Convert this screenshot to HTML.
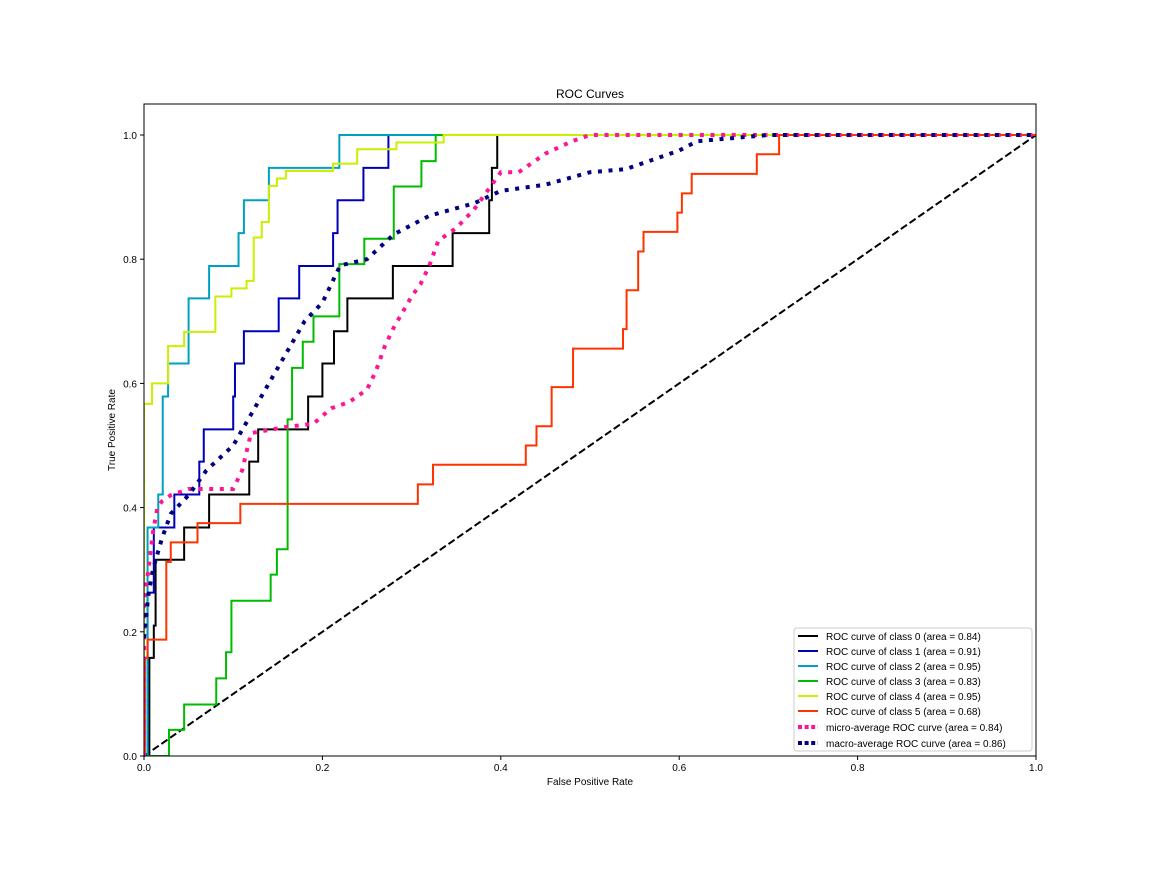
<!DOCTYPE html>
<html><head><meta charset="utf-8"><style>
body{margin:0;background:#fff;font-family:"Liberation Sans","DejaVu Sans",sans-serif;}
svg text{font-family:"Liberation Sans","DejaVu Sans",sans-serif;}
</style></head><body>
<svg id="chart" width="1152" height="864" xmlns="http://www.w3.org/2000/svg">
<rect width="1152" height="864" fill="#fff"/>
<g id="plot"></g>
</svg>
<script>
const xTicks=[0,0.2,0.4,0.6,0.8,1.0];
const yTicks=[0,0.2,0.4,0.6,0.8,1.0];
const c0x=[0,0.006,0.011,0.013,0.045,0.073,0.118,0.128,0.184,0.2,0.213,0.228,0.279,0.346,0.387,0.39,0.396,1];
const c0y=[0,0.158,0.21,0.316,0.368,0.421,0.474,0.526,0.579,0.632,0.684,0.737,0.789,0.842,0.895,0.947,1,1];
const c1x=[0,0.004,0.011,0.034,0.062,0.067,0.1,0.102,0.112,0.151,0.174,0.212,0.217,0.246,0.274,1];
const c1y=[0,0.263,0.368,0.421,0.474,0.526,0.579,0.632,0.684,0.737,0.789,0.842,0.895,0.947,1,1];
const c2x=[0,0.004,0.016,0.021,0.027,0.05,0.073,0.106,0.112,0.14,0.219,1];
const c2y=[0,0.368,0.421,0.579,0.632,0.737,0.789,0.842,0.895,0.947,1,1];
const c3x=[0,0.028,0.045,0.081,0.092,0.098,0.142,0.149,0.161,0.166,0.178,0.19,0.219,0.247,0.28,0.311,0.327,1];
const c3y=[0,0.042,0.083,0.125,0.167,0.25,0.292,0.333,0.542,0.625,0.667,0.708,0.792,0.833,0.917,0.958,1,1];
const c4x=[0,0,0.009,0.027,0.045,0.08,0.098,0.115,0.123,0.132,0.14,0.149,0.159,0.212,0.239,0.283,0.336,1];
const c4y=[0,0.567,0.6,0.66,0.683,0.74,0.753,0.765,0.835,0.86,0.918,0.93,0.942,0.954,0.977,0.988,1,1];
const c5x=[0,0.001,0.004,0.025,0.03,0.06,0.108,0.307,0.324,0.428,0.44,0.457,0.481,0.537,0.541,0.554,0.56,0.598,0.603,0.614,0.687,0.712,1];
const c5y=[0,0.158,0.1875,0.3125,0.344,0.375,0.406,0.4375,0.469,0.5,0.531,0.594,0.656,0.6875,0.75,0.8125,0.844,0.875,0.906,0.9375,0.969,1,1];
const microX=[0,0,0.005,0.01,0.015,0.02,0.03,0.05,0.1,0.11,0.115,0.12,0.14,0.16,0.19,0.21,0.23,0.25,0.26,0.27,0.28,0.3,0.31,0.32,0.33,0.35,0.37,0.39,0.4,0.42,0.43,0.45,0.48,0.5,1];
const microY=[0,0.25,0.3,0.36,0.4,0.41,0.42,0.43,0.43,0.46,0.49,0.52,0.525,0.53,0.535,0.56,0.57,0.59,0.62,0.66,0.69,0.74,0.76,0.79,0.83,0.85,0.88,0.92,0.94,0.94,0.95,0.97,0.99,1,1];
const macroX=[0,0.005,0.01,0.02,0.03,0.05,0.07,0.1,0.12,0.14,0.16,0.18,0.2,0.22,0.25,0.28,0.32,0.37,0.4,0.45,0.5,0.54,0.57,0.6,0.62,0.7,1];
const macroY=[0.19,0.26,0.3,0.35,0.39,0.42,0.46,0.5,0.55,0.6,0.65,0.7,0.73,0.79,0.8,0.84,0.87,0.89,0.91,0.92,0.94,0.945,0.96,0.975,0.99,1,1];
const labels=["ROC curve of class 0 (area = 0.84)","ROC curve of class 1 (area = 0.91)","ROC curve of class 2 (area = 0.95)","ROC curve of class 3 (area = 0.83)","ROC curve of class 4 (area = 0.95)","ROC curve of class 5 (area = 0.68)","micro-average ROC curve (area = 0.84)","macro-average ROC curve (area = 0.86)"];

const NS="http://www.w3.org/2000/svg";
const L=144,R=1036,T=104,B=756;
const sx=v=>L+v*(R-L);
const sy=v=>756-v*621;
const g=document.getElementById('plot');
function mk(tag,attrs,parent){const e=document.createElementNS(NS,tag);for(const k in attrs)e.setAttribute(k,attrs[k]);(parent||g).appendChild(e);return e;}
const clip=mk('clipPath',{id:'cp'});mk('rect',{x:L,y:T,width:R-L,height:B-T},clip);

// diagonal
const diag=mk('line',{x1:sx(0),y1:sy(0),x2:sx(1),y2:sy(1),stroke:'#000','stroke-width':2,'stroke-dasharray':'7.4 3.2'});



function stepPath(xs,ys){let d='M'+sx(xs[0])+' '+sy(ys[0]);for(let i=1;i<xs.length;i++){d+=' L'+sx(xs[i])+' '+sy(ys[i-1])+' L'+sx(xs[i])+' '+sy(ys[i]);}return d;}
function linePath(xs,ys){return xs.map((x,i)=>(i?'L':'M')+sx(x)+' '+sy(ys[i])).join(' ');}
const series=[[c0x,c0y,'#000000'],[c1x,c1y,'#0000b8'],[c2x,c2y,'#00a0c0'],[c3x,c3y,'#00bb00'],[c4x,c4y,'#ccee00'],[c5x,c5y,'#ff3300']];
series.forEach((s,i)=>{const p=mk('path',{d:stepPath(s[0],s[1]),fill:'none',stroke:s[2],'stroke-width':2,'clip-path':'url(#cp)'});

});
const mi=mk('path',{d:linePath(microX,microY),fill:'none',stroke:'deeppink','stroke-width':4,'stroke-dasharray':'4 6.6','clip-path':'url(#cp)'});


const ma=mk('path',{d:linePath(macroX,macroY),fill:'none',stroke:'navy','stroke-width':4,'stroke-dasharray':'4 6.6','clip-path':'url(#cp)'});



// frame
const fr=mk('rect',{x:L,y:T,width:R-L,height:B-T,fill:'none',stroke:'#000','stroke-width':1});


xTicks.forEach(v=>{mk('line',{x1:sx(v),x2:sx(v),y1:B,y2:B+4,stroke:'#000'});
const t=mk('text',{x:sx(v),y:B+15,'text-anchor':'middle','font-size':10});t.textContent=v.toFixed(1);

});
yTicks.forEach(v=>{mk('line',{x1:L-4,x2:L,y1:sy(v),y2:sy(v),stroke:'#000'});
const t=mk('text',{x:L-7,y:sy(v)+4,'text-anchor':'end','font-size':10});t.textContent=v.toFixed(1);

});
const title=mk('text',{x:590,y:98,'text-anchor':'middle','font-size':12});title.textContent='ROC Curves';


const xl=mk('text',{x:590,y:785,'text-anchor':'middle','font-size':10});xl.textContent='False Positive Rate';


const yl=mk('text',{x:115,y:430,'text-anchor':'middle','font-size':10,transform:'rotate(-90 115 430)'});yl.textContent='True Positive Rate';



// legend
const lg=mk('g',{});


mk('rect',{x:794,y:628,width:238,height:123,rx:3,fill:'#fff','fill-opacity':0.8,stroke:'#ccc'},lg);
const colors=['#000000','#0000b8','#00a0c0','#00bb00','#ccee00','#ff3300','deeppink','navy'];
labels.forEach((lab,i)=>{const y=636+i*15+(i>=6?(i-5)*1:0);
const e=mk('g',{},lg);


const dotted=i>=6;
mk('line',{x1:798,x2:818,y1:y,y2:y,stroke:colors[i],'stroke-width':dotted?4:2,'stroke-dasharray':dotted?'4 2.6':'none'},e);
const t=mk('text',{x:826,y:y+4,'font-size':10},e);t.textContent=lab;});
</script>
</body></html>
